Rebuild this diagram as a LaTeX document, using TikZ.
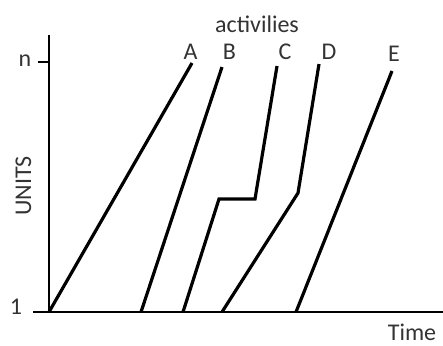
\documentclass[tikz,border=0pt]{standalone}
\usepackage{fontspec}
\setmainfont{Carlito}
\begin{document}
\begin{tikzpicture}[x=0.5pt,y=-0.5pt,
  lbl/.style={inner sep=0pt,text=black!80,font=\fontsize{12}{14}\selectfont},
  axis/.style={line width=1pt,black},
  act/.style={line width=1.6pt,black,line join=miter}]
\useasboundingbox (0,0) rectangle (443,345);
% axes
\coordinate (top) at (49,35);
\coordinate (orig) at (49,312);
\coordinate (xl) at (33,312);
\coordinate (xr) at (443,312);
\coordinate (nt) at (38,62);
\coordinate (na) at (49,62);
\draw[axis] (top) -- (orig);
\draw[axis] (xl) -- (xr);
\draw[axis] (nt) -- (na);
% labels
\node[lbl] (n) at (25,61) {n};
\node[lbl] (one) at (16,307) {1};
\node[lbl,rotate=90] (units) at (23.5,186) {UNITS};
\node[lbl] (time) at (412,332) {Time};
\node[lbl] (acts) at (257,24) {activilies};
\node[lbl] (la) at (190.5,52) {A};
\node[lbl] (lb) at (229.5,52) {B};
\node[lbl] (lc) at (285,52) {C};
\node[lbl] (ld) at (329,52) {D};
\node[lbl] (le) at (394,54) {E};
% activity lines
\coordinate (a0) at (49,312);  \coordinate (a1) at (192,63);
\coordinate (b0) at (141,312); \coordinate (b1) at (222,67);
\coordinate (c0) at (183,312); \coordinate (c1) at (219,199);
\coordinate (c2) at (255,199); \coordinate (c3) at (277,66);
\coordinate (d0) at (222,312); \coordinate (d1) at (298,193);
\coordinate (d2) at (319,64);
\coordinate (e0) at (296,312); \coordinate (e1) at (392,71);
\draw[act] (a0) -- (a1);
\draw[act] (b0) -- (b1);
\draw[act] (c0) -- (c1) -- (c2) -- (c3);
\draw[act] (d0) -- (d1) -- (d2);
\draw[act] (e0) -- (e1);
\end{tikzpicture}
\end{document}
